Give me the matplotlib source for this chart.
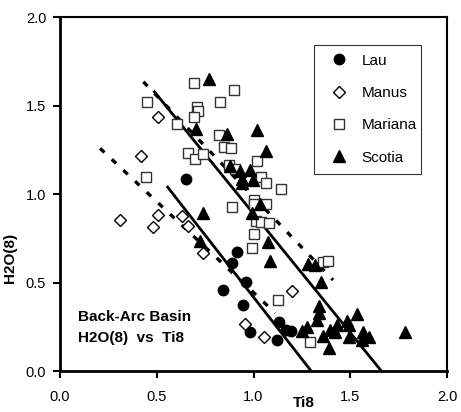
import numpy as np
import matplotlib.pyplot as plt

# data
lau_ti = [0.652, 0.914, 0.888, 0.840, 0.961, 0.945, 0.983, 1.130, 1.169, 1.195, 1.123]
lau_h2o = [1.085, 0.672, 0.608, 0.460, 0.503, 0.373, 0.222, 0.277, 0.232, 0.226, 0.175]

manus_ti = [0.505, 0.419, 0.310, 0.505, 0.483, 0.630, 0.660, 0.741, 0.957, 1.052, 1.200]
manus_h2o = [1.437, 1.212, 0.853, 0.881, 0.815, 0.877, 0.819, 0.665, 0.266, 0.194, 0.452]

mariana_ti = [0.695, 0.901, 0.447, 0.825, 0.707, 0.711, 0.695, 0.604, 0.821, 0.847,
              0.883, 0.664, 0.698, 0.741, 1.016, 0.871, 0.905, 1.038, 0.443, 1.067,
              1.143, 0.887, 1.001, 1.001, 1.064, 1.011, 1.041, 1.081, 1.000, 0.992,
              1.358, 1.384, 1.128, 1.292]
mariana_h2o = [1.630, 1.588, 1.520, 1.518, 1.489, 1.471, 1.437, 1.397, 1.332, 1.267,
               1.260, 1.234, 1.198, 1.226, 1.188, 1.164, 1.143, 1.096, 1.096, 1.060,
               1.030, 0.928, 0.966, 0.946, 0.942, 0.845, 0.844, 0.838, 0.774, 0.697,
               0.614, 0.619, 0.399, 0.166]

scotia_ti = [0.772, 0.704, 0.862, 1.018, 1.067, 0.878, 0.931, 0.983, 0.940, 0.997,
             0.940, 1.035, 0.991, 0.741, 0.722, 1.073, 1.083, 1.280, 1.319, 1.350,
             1.341, 1.336, 1.330, 1.276, 1.250, 1.358, 1.388, 1.397, 1.431, 1.423,
             1.481, 1.491, 1.491, 1.536, 1.568, 1.595, 1.561, 1.781]
scotia_h2o = [1.648, 1.366, 1.337, 1.363, 1.243, 1.161, 1.130, 1.133, 1.083, 1.079,
              1.060, 0.941, 0.890, 0.891, 0.737, 0.727, 0.621, 0.606, 0.599, 0.503,
              0.367, 0.326, 0.288, 0.250, 0.226, 0.198, 0.128, 0.232, 0.260, 0.222,
              0.282, 0.260, 0.194, 0.322, 0.222, 0.194, 0.175, 0.220]

# trend lines (end points)
solid1_ti = [0.552, 1.298]
solid1_h2o = [1.045, 0.0]
solid2_ti = [0.483, 1.661]
solid2_h2o = [1.584, 0.0]
dash1_ti = [0.431, 1.411]
dash1_h2o = [1.634, 0.514]
dash2_ti = [0.207, 1.112]
dash2_h2o = [1.258, 0.328]

plt.rcParams['font.family'] = ['Liberation Sans', 'DejaVu Sans']

fig = plt.figure(figsize=(4.61, 4.12), dpi=100)
ax = fig.add_axes([0.1302, 0.0995, 0.8394, 0.8592])

ax.plot(solid1_ti, solid1_h2o, color='black', lw=2.0, solid_capstyle='butt')
ax.plot(solid2_ti, solid2_h2o, color='black', lw=2.0, solid_capstyle='butt')
ax.plot(dash1_ti, dash1_h2o, color='black', lw=2.4, dashes=(1.8, 3.0))
ax.plot(dash2_ti, dash2_h2o, color='black', lw=2.4, dashes=(1.8, 3.0))

ax.plot(lau_ti, lau_h2o, 'o', color='black', ms=7.5, ls='none', label='Lau')
ax.plot(manus_ti, manus_h2o, 'D', mfc='white', mec='black', mew=1.0, ms=6,
        ls='none', label='Manus')
ax.plot(mariana_ti, mariana_h2o, 's', mfc='white', mec='#333333', mew=1.0, ms=7,
        ls='none', label='Mariana')
ax.plot(scotia_ti, scotia_h2o, '^', color='black', ms=8.5, ls='none', label='Scotia')

ax.set_xlim(0, 2)
ax.set_ylim(0, 2)
ax.set_xticks(np.arange(0, 2.01, 0.5))
ax.set_yticks(np.arange(0, 2.01, 0.5))
ax.set_xticklabels(['0.0', '0.5', '1.0', '1.5', '2.0'])
ax.set_yticklabels(['0.0', '0.5', '1.0', '1.5', '2.0'])
ax.tick_params(direction='out', length=5, width=1.5, labelsize=10.5, pad=5)
ax.tick_params(axis='x', pad=9)

for side in ['left', 'bottom']:
    ax.spines[side].set_linewidth(2)
for side in ['top', 'right']:
    ax.spines[side].set_linewidth(1.5)

ax.set_xlabel('Ti8', fontweight='bold', fontsize=11)
ax.xaxis.set_label_coords(0.63, -0.072)
ax.set_ylabel('H2O(8)', fontweight='bold', fontsize=11)
ax.yaxis.set_label_coords(-0.11, 0.32)

ax.text(0.047, 0.073, 'Back-Arc Basin\nH2O(8)  vs  Ti8', transform=ax.transAxes,
        fontsize=11, fontweight='bold', linespacing=1.65, va='bottom', ha='left')

leg = ax.legend(loc='upper left', bbox_to_anchor=(0.6375, 0.565, 0.316, 0.3785),
                mode='expand', fontsize=11, frameon=True, fancybox=False,
                edgecolor='black', borderpad=0.6, labelspacing=1.2,
                handlelength=2.0, handletextpad=0.5)
leg.get_frame().set_linewidth(0.8)

fig.savefig('out.png', dpi=100)
